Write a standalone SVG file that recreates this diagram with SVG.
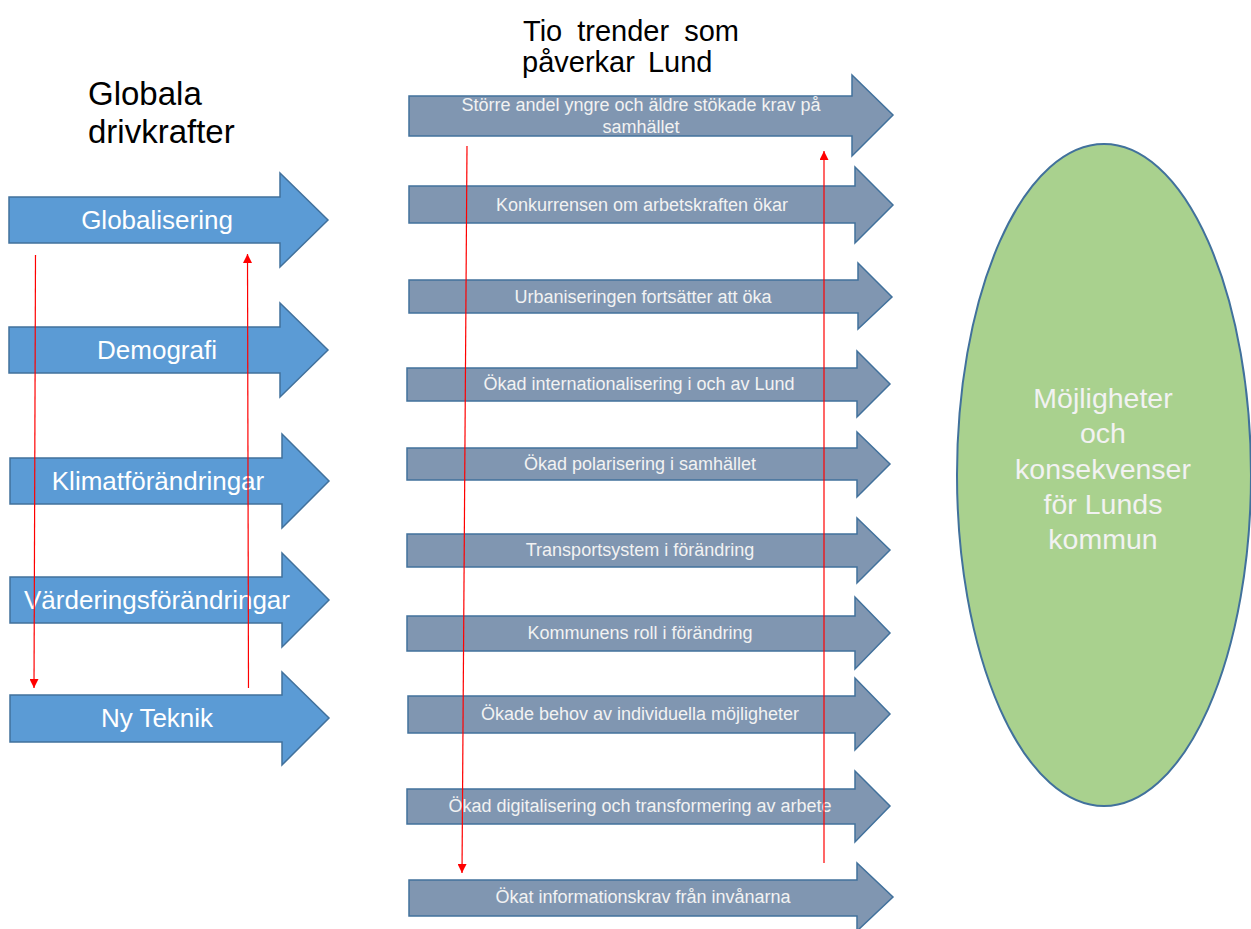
<svg xmlns="http://www.w3.org/2000/svg" width="1251" height="929" viewBox="0 0 1251 929">
<defs>
<style>
.lb{fill:#5B9BD5;stroke:#41719C;stroke-width:1.5}
.mb{fill:#8096B1;stroke:#41719C;stroke-width:1.5}
.lt{font-family:"Liberation Sans",Arial,sans-serif;font-size:26px;fill:#FFFFFF;text-anchor:middle}
.mt{font-family:"Liberation Sans",Arial,sans-serif;font-size:18px;fill:#F2F2F2;text-anchor:middle}
.tt{font-family:"Liberation Sans",Arial,sans-serif;fill:#000000}
.et{font-family:"Liberation Sans",Arial,sans-serif;font-size:28.5px;fill:#F2F2F2;text-anchor:middle}
.rl{stroke:#FF0000;stroke-width:1.2;fill:none}
</style>
<marker id="ah" viewBox="0 0 10 10" refX="10" refY="5" markerWidth="9" markerHeight="9" markerUnits="userSpaceOnUse" orient="auto">
<path d="M0,0 L10,5 L0,10 Z" fill="#FF0000"/>
</marker>
</defs>
<rect width="1251" height="929" fill="#FFFFFF"/>

<g id="titles">
<text class="tt" font-size="33" x="88" y="105">Globala</text>
<text class="tt" font-size="33" x="88" y="143">drivkrafter</text>
<text class="tt" font-size="29" x="523" y="41" word-spacing="7">Tio trender som</text>
<text class="tt" font-size="29" x="522" y="72" word-spacing="5">påverkar Lund</text>
</g>

<g id="drivers">
<g id="globalisering"><path class="lb" d="M9,197 H280 V173 L328,220 L280,267 V243 H9 Z"/><text class="lt" x="157" y="229">Globalisering</text></g>
<g id="demografi"><path class="lb" d="M9,327 H280 V303 L328,350 L280,397 V373 H9 Z"/><text class="lt" x="157" y="359">Demografi</text></g>
<g id="klimat"><path class="lb" d="M10,458 H282 V434 L329,481 L282,528 V504 H10 Z"/><text class="lt" x="158" y="490">Klimatförändringar</text></g>
<g id="varderingar"><path class="lb" d="M10,577 H282 V553 L329,600 L282,647 V623 H10 Z"/><text class="lt" x="157" y="609">Värderingsförändringar</text></g>
<g id="nyteknik"><path class="lb" d="M10,695 H282 V672 L329,718 L282,765 V742 H10 Z"/><text class="lt" x="157" y="727">Ny Teknik</text></g>
</g>

<g id="trends">
<g id="t1"><path class="mb" d="M409,96 H852 V75 L893,115 L852,156 V136 H409 Z"/><text class="mt" x="641" y="111">Större andel yngre och äldre stökade krav på</text><text class="mt" x="641" y="133">samhället</text></g>
<g id="t2"><path class="mb" d="M409,186 H855 V167 L893,205 L855,243 V223 H409 Z"/><text class="mt" x="642" y="211">Konkurrensen om arbetskraften ökar</text></g>
<g id="t3"><path class="mb" d="M409,280 H858 V263 L892,297 L858,329 V313 H409 Z"/><text class="mt" x="643" y="303">Urbaniseringen fortsätter att öka</text></g>
<g id="t4"><path class="mb" d="M407,368 H857 V351 L890,384 L857,417 V401 H407 Z"/><text class="mt" x="639" y="390">Ökad internationalisering i och av Lund</text></g>
<g id="t5"><path class="mb" d="M407,448 H857 V432 L890,464 L857,497 V480 H407 Z"/><text class="mt" x="640" y="470">Ökad polarisering i samhället</text></g>
<g id="t6"><path class="mb" d="M407,534 H857 V518 L890,550 L857,583 V567 H407 Z"/><text class="mt" x="640" y="556">Transportsystem i förändring</text></g>
<g id="t7"><path class="mb" d="M407,616 H855 V597 L890,633 L855,669 V651 H407 Z"/><text class="mt" x="640" y="639">Kommunens roll i förändring</text></g>
<g id="t8"><path class="mb" d="M408,696 H855 V678 L890,714 L855,750 V733 H408 Z"/><text class="mt" x="640" y="720">Ökade behov av individuella möjligheter</text></g>
<g id="t9"><path class="mb" d="M407,789 H855 V771 L890,806 L855,842 V824 H407 Z"/><text class="mt" x="640" y="812">Ökad digitalisering och transformering av arbete</text></g>
<g id="t10"><path class="mb" d="M409,880 H857 V863 L893,897 L857,931 V916 H409 Z"/><text class="mt" x="643" y="903">Ökat informationskrav från invånarna</text></g>
</g>

<g id="outcome">
<ellipse cx="1104" cy="475" rx="147" ry="331" fill="#A9D18E" stroke="#41719C" stroke-width="2"/>
<text class="et" x="1103" y="408">Möjligheter</text>
<text class="et" x="1103" y="443">och</text>
<text class="et" x="1103" y="479">konsekvenser</text>
<text class="et" x="1103" y="514">för Lunds</text>
<text class="et" x="1103" y="549">kommun</text>
</g>

<g id="connectors">
<line class="rl" x1="35.5" y1="255" x2="34" y2="688" marker-end="url(#ah)"/>
<line class="rl" x1="248.5" y1="688" x2="247.5" y2="254" marker-end="url(#ah)"/>
<line class="rl" x1="467" y1="146" x2="462" y2="873" marker-end="url(#ah)"/>
<line class="rl" x1="824" y1="863" x2="824" y2="151" marker-end="url(#ah)"/>
</g>
</svg>
